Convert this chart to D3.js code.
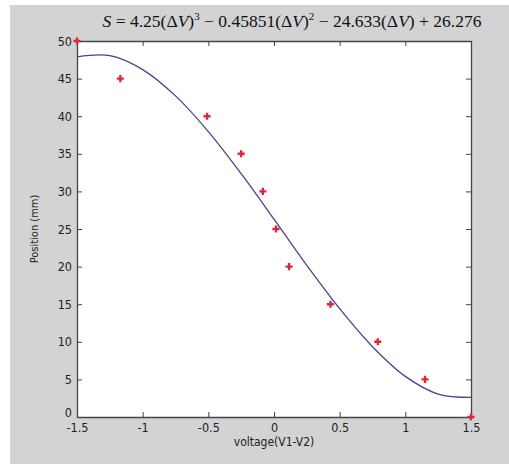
<!DOCTYPE html>
<html>
<head>
<meta charset="utf-8">
<script src="https://cdn.jsdelivr.net/npm/d3@7"></script>
<style>
  body { margin: 0; background: #fff; }
  svg { display: block; }
</style>
</head>
<body>
<svg id="chart" width="509" height="466"></svg>
<script>
// measured points (voltage, position)
var voltage = [-1.5, -1.17, -0.51, -0.25, -0.085, 0.015, 0.115, 0.43, 0.79, 1.15, 1.5];
var position = [50, 45, 40, 35, 30, 25, 20, 15, 10, 5, 0];

// fitted curve
var fitV = [-1.5, -1.25, -1.0, -0.75, -0.5, -0.25, 0, 0.25, 0.5, 0.75, 1.0, 1.25, 1.5];
var fitS = [47.9, 48.05, 46.2, 42.7, 37.95, 32.35, 26.3, 20.15, 14.4, 9.35, 5.4, 3.05, 2.6];

var xTicks = [-1.5, -1, -0.5, 0, 0.5, 1, 1.5];
var yTicks = [0, 5, 10, 15, 20, 25, 30, 35, 40, 45, 50];

var svg = d3.select("#chart");
var pLeft = 77, pRight = 471, pTop = 41, pBottom = 417;

// gray figure background
svg.append("rect").attr("x", 10).attr("y", 5).attr("width", 499).attr("height", 459)
  .attr("fill", "#d3d3d3");

var x = d3.scaleLinear().domain([-1.5, 1.5]).range([pLeft, pRight]);
var y = d3.scaleLinear().domain([0, 50]).range([pBottom, pTop]);

svg.append("rect").attr("x", pLeft).attr("y", pTop)
  .attr("width", pRight - pLeft).attr("height", pBottom - pTop)
  .attr("fill", "#fff");

var tickFont = "'Liberation Sans Narrow', 'Arial Narrow', 'DejaVu Sans Condensed', sans-serif";

function fmt(d) { return String(d); }

var gx = svg.append("g").attr("transform", "translate(0," + pBottom + ")")
  .call(d3.axisBottom(x).tickValues(xTicks).tickSizeInner(-5).tickSizeOuter(0).tickPadding(6).tickFormat(fmt));
var gy = svg.append("g").attr("transform", "translate(" + pLeft + ",0)")
  .call(d3.axisLeft(y).tickValues(yTicks).tickSizeInner(-5).tickSizeOuter(0).tickPadding(5).tickFormat(fmt));
var gt = svg.append("g").attr("transform", "translate(0," + pTop + ")")
  .call(d3.axisTop(x).tickValues(xTicks).tickSizeInner(-5).tickSizeOuter(0).tickFormat(""));
var gr = svg.append("g").attr("transform", "translate(" + pRight + ",0)")
  .call(d3.axisRight(y).tickValues(yTicks).tickSizeInner(-5).tickSizeOuter(0).tickFormat(""));

[gx, gy, gt, gr].forEach(function(g){
  g.selectAll(".domain").attr("stroke", "#444").attr("stroke-width", 1.3);
  g.selectAll(".tick line").attr("stroke", "#444");
  g.selectAll("text").attr("fill", "#222").style("font-family", tickFont).style("font-size", "12.5px");
});
gy.selectAll(".tick text").attr("dy", function(d){ return d === 0 ? "-0.05em" : "0.32em"; });

// fitted curve
var line = d3.line().x(function(d){ return x(d[0]); }).y(function(d){ return y(d[1]); })
  .curve(d3.curveCatmullRom);
svg.append("path").datum(d3.zip(fitV, fitS))
  .attr("d", line).attr("fill", "none").attr("stroke", "#45458f").attr("stroke-width", 1.3);

// markers
var star = d3.symbol().type(d3.symbolCross).size(28);
svg.selectAll(".pt").data(d3.zip(voltage, position)).enter().append("path")
  .attr("class", "pt")
  .attr("transform", function(d){ return "translate(" + x(d[0]) + "," + y(d[1]) + ")"; })
  .attr("d", star).attr("fill", "#d8283c");

// axis labels
svg.append("text").attr("x", (pLeft + pRight) / 2).attr("y", 446).attr("text-anchor", "middle")
  .style("font-family", tickFont).style("font-size", "12px").attr("fill", "#222")
  .text("voltage(V1-V2)");
svg.append("text").attr("transform", "translate(38," + ((pTop + pBottom) / 2) + ") rotate(-90)")
  .attr("text-anchor", "middle")
  .style("font-family", tickFont).style("font-size", "11px").attr("fill", "#222")
  .text("Position (mm)");

// title
var title = svg.append("text").attr("x", 292).attr("y", 27).attr("text-anchor", "middle")
  .style("font-family", "'Liberation Serif', 'Times New Roman', serif").style("font-size", "17.5px")
  .attr("fill", "#111");
var parts = [
  ["S", true], [" = 4.25(Δ", false], ["V", true], [")", false], ["3", false, "sup"],
  [" − 0.45851(Δ", false], ["V", true], [")", false], ["2", false, "sup"],
  [" − 24.633(Δ", false], ["V", true], [") + 26.276", false]
];
parts.forEach(function(p, i){
  var t = title.append("tspan").text(p[0]).style("font-style", p[1] ? "italic" : "normal");
  if (p[2] === "sup") t.attr("dy", "-7").style("font-size", "11px");
  else if (i > 0 && parts[i-1][2] === "sup") t.attr("dy", "7");
});
</script>
</body>
</html>
